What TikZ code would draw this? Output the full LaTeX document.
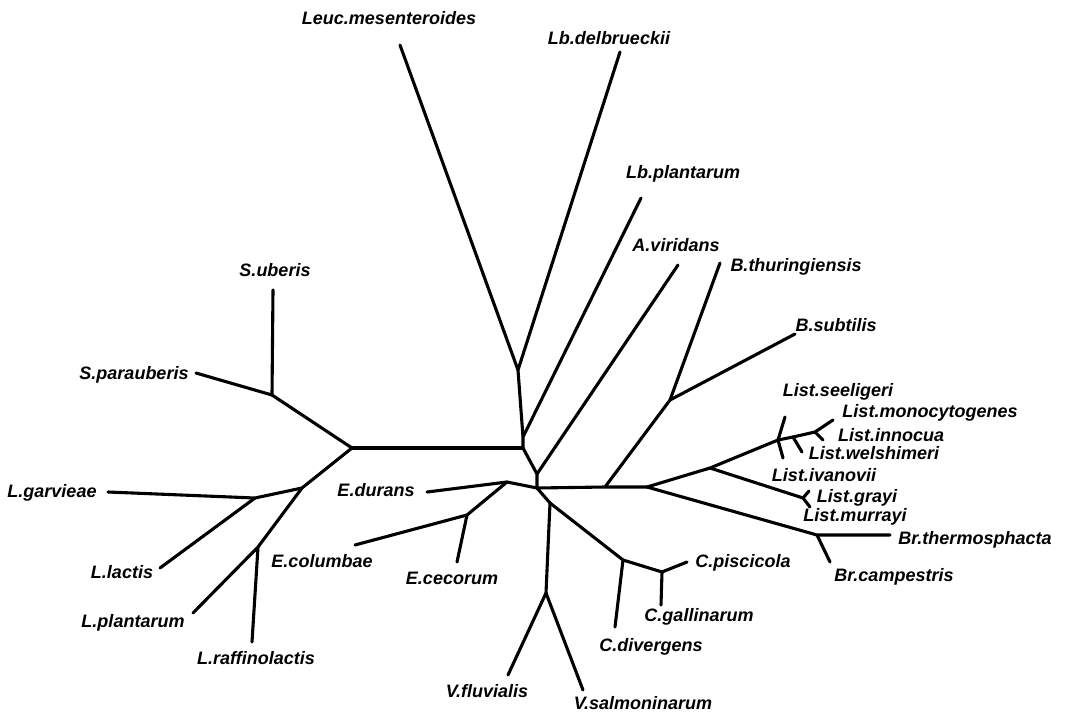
\documentclass[tikz,border=0pt]{standalone}
\usepackage{fontspec}
\setmainfont{Liberation Sans}
\begin{document}
\begin{tikzpicture}[x=1pt,y=-1pt,
  br/.style={line width=3.1pt,line cap=round,line join=round},
  lab/.style={font=\fontsize{18}{20}\selectfont\bfseries\itshape,inner sep=0pt,text height=12pt,text depth=3.5pt}]
\useasboundingbox (0,0) rectangle (1066,718);
% coordinates
\coordinate (tLeuc) at (400,45);
\coordinate (tLbd) at (620,52);
\coordinate (n1) at (518,370);
\coordinate (n2) at (523,437);
\coordinate (tLbp) at (641,198);
\coordinate (n3) at (523,448);
\coordinate (n4) at (537,474);
\coordinate (tAv) at (678,265);
\coordinate (n5) at (537,488);
\coordinate (Ea) at (507,482);
\coordinate (tEd) at (427,492);
\coordinate (Eb) at (467,515);
\coordinate (tEcol) at (355,545);
\coordinate (tEcec) at (457,562);
\coordinate (R1) at (605,487);
\coordinate (Bn) at (670,400);
\coordinate (tBt) at (720,263);
\coordinate (tBs) at (795,334);
\coordinate (R2) at (647,487);
\coordinate (Ln) at (710,468);
\coordinate (La) at (778,440);
\coordinate (tLs) at (785,417);
\coordinate (tLiv) at (783,458);
\coordinate (Lb) at (793,437);
\coordinate (tLw) at (802,452);
\coordinate (Lc) at (815,432);
\coordinate (tLm) at (833,420);
\coordinate (tLi) at (823,440);
\coordinate (Lg) at (803,498);
\coordinate (tLg1) at (809,491);
\coordinate (tLg2) at (810,507);
\coordinate (Brn) at (817,535);
\coordinate (tBrt) at (890,535);
\coordinate (tBrc) at (830,562);
\coordinate (Cn1) at (550,503);
\coordinate (Vn) at (546,593);
\coordinate (tVf) at (508,675);
\coordinate (tVs) at (583,690);
\coordinate (Cn2) at (623,560);
\coordinate (tCd) at (615,627);
\coordinate (Cn3) at (662,572);
\coordinate (tCp) at (687,562);
\coordinate (tCg) at (661,605);
\coordinate (Sn) at (352,448);
\coordinate (Sa) at (272,395);
\coordinate (tSu) at (273,290);
\coordinate (tSp) at (196,373);
\coordinate (Ln1) at (302,488);
\coordinate (Lga) at (255,498);
\coordinate (tLgv) at (108,492);
\coordinate (tLl) at (160,568);
\coordinate (Lp) at (258,547);
\coordinate (tLp) at (193,613);
\coordinate (tLr) at (252,642);
% branches
\draw[br] (tLeuc) -- (n1) -- (tLbd);
\draw[br] (n1) -- (n2) -- (n3) -- (n4) -- (n5);
\draw[br] (n2) -- (tLbp);
\draw[br] (n4) -- (tAv);
\draw[br] (n3) -- (Sn);
\draw[br] (Sn) -- (Sa) -- (tSu);
\draw[br] (Sa) -- (tSp);
\draw[br] (Sn) -- (Ln1) -- (Lga) -- (tLgv);
\draw[br] (Lga) -- (tLl);
\draw[br] (Ln1) -- (Lp) -- (tLp);
\draw[br] (Lp) -- (tLr);
\draw[br] (n5) -- (Ea) -- (tEd);
\draw[br] (Ea) -- (Eb) -- (tEcol);
\draw[br] (Eb) -- (tEcec);
\draw[br] (n5) -- (R1) -- (R2);
\draw[br] (R1) -- (Bn) -- (tBt);
\draw[br] (Bn) -- (tBs);
\draw[br] (R2) -- (Ln) -- (La) -- (Lb) -- (Lc) -- (tLm);
\draw[br] (La) -- (tLs);
\draw[br] (La) -- (tLiv);
\draw[br] (Lb) -- (tLw);
\draw[br] (Lc) -- (tLi);
\draw[br] (Ln) -- (Lg) -- (tLg1);
\draw[br] (Lg) -- (tLg2);
\draw[br] (R2) -- (Brn) -- (tBrt);
\draw[br] (Brn) -- (tBrc);
\draw[br] (n5) -- (Cn1) -- (Vn) -- (tVf);
\draw[br] (Vn) -- (tVs);
\draw[br] (Cn1) -- (Cn2) -- (tCd);
\draw[br] (Cn2) -- (Cn3) -- (tCp);
\draw[br] (Cn3) -- (tCg);
% labels
\node[lab] (lLeuc) at (389,20) {Leuc.mesenteroides};
\node[lab] (lLbd) at (609,40) {Lb.delbrueckii};
\node[lab] (lLbp) at (683,174) {Lb.plantarum};
\node[lab] (lAv) at (676,247) {A.viridans};
\node[lab] (lBt) at (796,267) {B.thuringiensis};
\node[lab] (lBs) at (836,327) {B.subtilis};
\node[lab] (lSu) at (275,272) {S.uberis};
\node[lab] (lSp) at (134,375) {S.parauberis};
\node[lab] (lLgv) at (52,493) {L.garvieae};
\node[lab] (lLl) at (122,574) {L.lactis};
\node[lab] (lLp) at (133,623) {L.plantarum};
\node[lab] (lLr) at (256,660) {L.raffinolactis};
\node[lab] (lEd) at (376,492) {E.durans};
\node[lab] (lEcol) at (322,563) {E.columbae};
\node[lab] (lEcec) at (452,580) {E.cecorum};
\node[lab] (lVf) at (487,693) {V.fluvialis};
\node[lab] (lVs) at (643,705) {V.salmoninarum};
\node[lab] (lCd) at (651,647) {C.divergens};
\node[lab] (lCg) at (699,617) {C.gallinarum};
\node[lab] (lCp) at (743,563) {C.piscicola};
\node[lab] (lBrt) at (975,540) {Br.thermosphacta};
\node[lab] (lBrc) at (894,577) {Br.campestris};
\node[lab] (lLs) at (838,392) {List.seeligeri};
\node[lab] (lLm) at (930,413) {List.monocytogenes};
\node[lab] (lLi) at (891,437) {List.innocua};
\node[lab] (lLw) at (874,455) {List.welshimeri};
\node[lab] (lLiv) at (824,477) {List.ivanovii};
\node[lab] (lLg) at (857,498) {List.grayi};
\node[lab] (lLmu) at (855,517) {List.murrayi};
\end{tikzpicture}
\end{document}
